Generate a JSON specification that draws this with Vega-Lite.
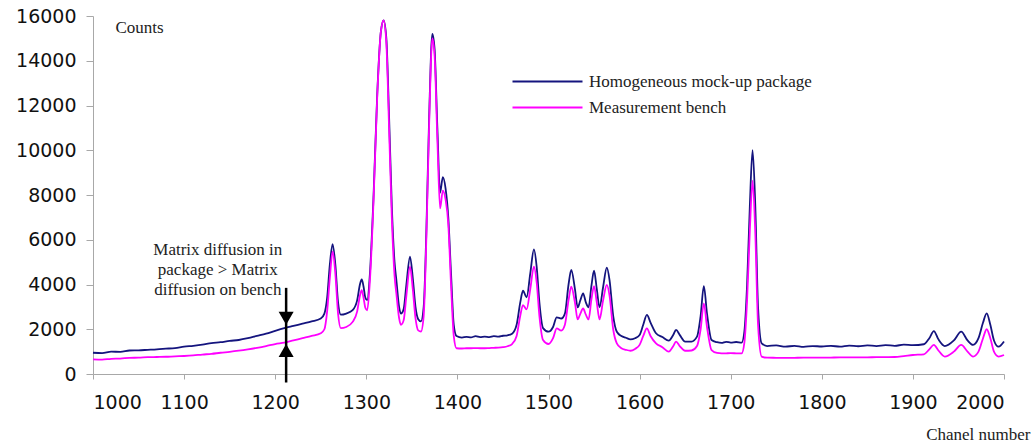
{
  "$schema": "https://vega.github.io/schema/vega-lite/v6.json",
  "width": 911,
  "height": 358,
  "autosize": {"type": "none"},
  "padding": {"left": 93, "top": 16, "right": 32, "bottom": 73},
  "background": "white",
  "config": {"view": {"stroke": null}},
  "layer": [
    {
      "data": {"values": [
        {"ch":1000,"pkg":950,"bench":650},{"ch":1010,"pkg":930,"bench":640},{"ch":1020,"pkg":1000,"bench":680},{"ch":1030,"pkg":990,"bench":690},
        {"ch":1040,"pkg":1050,"bench":720},{"ch":1050,"pkg":1060,"bench":730},{"ch":1060,"pkg":1080,"bench":750},{"ch":1070,"pkg":1100,"bench":760},
        {"ch":1080,"pkg":1130,"bench":770},{"ch":1090,"pkg":1160,"bench":790},{"ch":1100,"pkg":1220,"bench":805},{"ch":1110,"pkg":1260,"bench":830},
        {"ch":1120,"pkg":1310,"bench":870},{"ch":1130,"pkg":1380,"bench":900},{"ch":1140,"pkg":1420,"bench":950},{"ch":1150,"pkg":1480,"bench":990},
        {"ch":1160,"pkg":1520,"bench":1040},{"ch":1170,"pkg":1600,"bench":1100},{"ch":1180,"pkg":1700,"bench":1170},{"ch":1190,"pkg":1800,"bench":1250},
        {"ch":1200,"pkg":1930,"bench":1340},{"ch":1210,"pkg":2050,"bench":1400},{"ch":1220,"pkg":2150,"bench":1500},{"ch":1230,"pkg":2250,"bench":1600},
        {"ch":1240,"pkg":2350,"bench":1700},{"ch":1250,"pkg":2480,"bench":1820},{"ch":1254,"pkg":2700,"bench":2000},{"ch":1257,"pkg":3400,"bench":2800},
        {"ch":1260,"pkg":4900,"bench":4300},{"ch":1263,"pkg":5800,"bench":5470},{"ch":1266,"pkg":4900,"bench":4500},{"ch":1269,"pkg":3200,"bench":2700},
        {"ch":1272,"pkg":2650,"bench":2050},{"ch":1278,"pkg":2700,"bench":2100},{"ch":1285,"pkg":2850,"bench":2330},{"ch":1290,"pkg":3300,"bench":2800},
        {"ch":1293,"pkg":4000,"bench":3500},{"ch":1295,"pkg":4230,"bench":3750},{"ch":1297,"pkg":3900,"bench":3400},{"ch":1299,"pkg":3400,"bench":2950},
        {"ch":1301,"pkg":3300,"bench":2850},{"ch":1304,"pkg":4500,"bench":4200},{"ch":1308,"pkg":8000,"bench":7800},{"ch":1312,"pkg":12500,"bench":12400},
        {"ch":1316,"pkg":15300,"bench":15300},{"ch":1319,"pkg":15800,"bench":15800},{"ch":1322,"pkg":15000,"bench":14800},{"ch":1325,"pkg":11500,"bench":11000},
        {"ch":1328,"pkg":7500,"bench":7000},{"ch":1331,"pkg":5000,"bench":4400},{"ch":1333,"pkg":4200,"bench":3600},{"ch":1336,"pkg":3000,"bench":2500},
        {"ch":1338,"pkg":2700,"bench":2200},{"ch":1341,"pkg":2900,"bench":2400},{"ch":1344,"pkg":4000,"bench":3500},{"ch":1348,"pkg":5250,"bench":4800},
        {"ch":1351,"pkg":4300,"bench":3800},{"ch":1354,"pkg":3000,"bench":2500},{"ch":1357,"pkg":2450,"bench":1950},{"ch":1360,"pkg":2350,"bench":1900},
        {"ch":1363,"pkg":3000,"bench":2600},{"ch":1366,"pkg":6500,"bench":6200},{"ch":1369,"pkg":11500,"bench":11200},{"ch":1372.5,"pkg":15200,"bench":15000},
        {"ch":1375,"pkg":14500,"bench":14200},{"ch":1378,"pkg":11000,"bench":10500},{"ch":1381,"pkg":8100,"bench":7400},{"ch":1384,"pkg":8800,"bench":8200},
        {"ch":1387,"pkg":8300,"bench":7800},{"ch":1390,"pkg":7000,"bench":6700},{"ch":1393,"pkg":4500,"bench":4000},{"ch":1396,"pkg":2200,"bench":1700},
        {"ch":1399,"pkg":1700,"bench":1150},{"ch":1405,"pkg":1630,"bench":1140},{"ch":1410,"pkg":1660,"bench":1150},{"ch":1415,"pkg":1640,"bench":1150},{"ch":1420,"pkg":1690,"bench":1160},{"ch":1425,"pkg":1650,"bench":1150},{"ch":1430,"pkg":1670,"bench":1150},
        {"ch":1435,"pkg":1650,"bench":1160},{"ch":1440,"pkg":1690,"bench":1170},{"ch":1445,"pkg":1670,"bench":1180},{"ch":1450,"pkg":1710,"bench":1200},{"ch":1455,"pkg":1730,"bench":1240},{"ch":1460,"pkg":1800,"bench":1340},{"ch":1465,"pkg":2200,"bench":1700},
        {"ch":1469,"pkg":3200,"bench":2600},{"ch":1472,"pkg":3720,"bench":3080},{"ch":1476,"pkg":3430,"bench":2890},{"ch":1480,"pkg":4500,"bench":3800},
        {"ch":1484,"pkg":5570,"bench":4800},{"ch":1487,"pkg":4800,"bench":4100},{"ch":1490,"pkg":3200,"bench":2600},{"ch":1494,"pkg":2050,"bench":1520},
        {"ch":1500,"pkg":1890,"bench":1340},{"ch":1505,"pkg":2100,"bench":1600},{"ch":1509,"pkg":2530,"bench":2040},{"ch":1514,"pkg":2480,"bench":1940},
        {"ch":1518,"pkg":2700,"bench":2200},{"ch":1522,"pkg":4000,"bench":3300},{"ch":1525,"pkg":4650,"bench":3900},{"ch":1529,"pkg":3800,"bench":3200},
        {"ch":1532,"pkg":2980,"bench":2440},{"ch":1535,"pkg":3300,"bench":2700},{"ch":1538,"pkg":3600,"bench":2930},{"ch":1541,"pkg":3200,"bench":2650},
        {"ch":1544,"pkg":2980,"bench":2440},{"ch":1547,"pkg":3900,"bench":3300},{"ch":1550,"pkg":4620,"bench":3930},{"ch":1553,"pkg":3800,"bench":3200},
        {"ch":1556,"pkg":2980,"bench":2440},{"ch":1560,"pkg":3900,"bench":3300},{"ch":1564,"pkg":4750,"bench":3980},{"ch":1567,"pkg":4200,"bench":3500},
        {"ch":1571,"pkg":2600,"bench":2000},{"ch":1575,"pkg":1890,"bench":1370},{"ch":1580,"pkg":1700,"bench":1150},{"ch":1585,"pkg":1620,"bench":1080},{"ch":1590,"pkg":1550,"bench":1040},{"ch":1595,"pkg":1600,"bench":1120},
        {"ch":1600,"pkg":1740,"bench":1300},{"ch":1604,"pkg":2200,"bench":1700},{"ch":1608,"pkg":2640,"bench":2040},{"ch":1612,"pkg":2300,"bench":1700},
        {"ch":1618,"pkg":1820,"bench":1370},{"ch":1625,"pkg":1650,"bench":1200},{"ch":1632,"pkg":1490,"bench":1000},{"ch":1637,"pkg":1750,"bench":1250},
        {"ch":1640,"pkg":1970,"bench":1450},{"ch":1644,"pkg":1750,"bench":1250},{"ch":1650,"pkg":1450,"bench":1040},{"ch":1657,"pkg":1450,"bench":1050},
        {"ch":1663,"pkg":1670,"bench":1250},{"ch":1667,"pkg":2600,"bench":2000},{"ch":1670.5,"pkg":3930,"bench":3160},{"ch":1674,"pkg":2700,"bench":2100},
        {"ch":1679,"pkg":1520,"bench":1070},{"ch":1685,"pkg":1420,"bench":940},{"ch":1690,"pkg":1390,"bench":920},{"ch":1695,"pkg":1440,"bench":925},{"ch":1700,"pkg":1400,"bench":930},{"ch":1706,"pkg":1430,"bench":925},{"ch":1712,"pkg":1400,"bench":920},
        {"ch":1715,"pkg":1900,"bench":1400},{"ch":1718,"pkg":4000,"bench":3300},{"ch":1721,"pkg":7500,"bench":6400},{"ch":1724,"pkg":10000,"bench":8640},
        {"ch":1727,"pkg":7500,"bench":6300},{"ch":1730,"pkg":3000,"bench":2200},{"ch":1734,"pkg":1370,"bench":780},{"ch":1740,"pkg":1250,"bench":730},
        {"ch":1750,"pkg":1280,"bench":725},{"ch":1760,"pkg":1220,"bench":720},{"ch":1770,"pkg":1260,"bench":725},{"ch":1780,"pkg":1210,"bench":730},{"ch":1790,"pkg":1250,"bench":730},{"ch":1800,"pkg":1230,"bench":730},{"ch":1810,"pkg":1260,"bench":735},{"ch":1820,"pkg":1220,"bench":740},
        {"ch":1830,"pkg":1270,"bench":740},{"ch":1840,"pkg":1240,"bench":740},{"ch":1850,"pkg":1280,"bench":745},{"ch":1860,"pkg":1250,"bench":750},{"ch":1870,"pkg":1290,"bench":755},{"ch":1880,"pkg":1260,"bench":760},{"ch":1890,"pkg":1310,"bench":800},{"ch":1900,"pkg":1290,"bench":850},
        {"ch":1912,"pkg":1330,"bench":880},{"ch":1918,"pkg":1600,"bench":1100},{"ch":1923,"pkg":1920,"bench":1300},{"ch":1928,"pkg":1550,"bench":1050},
        {"ch":1935,"pkg":1250,"bench":780},{"ch":1945,"pkg":1500,"bench":1000},{"ch":1953,"pkg":1890,"bench":1300},{"ch":1960,"pkg":1500,"bench":1000},
        {"ch":1966,"pkg":1300,"bench":780},{"ch":1972,"pkg":1600,"bench":1000},{"ch":1977,"pkg":2300,"bench":1600},{"ch":1981,"pkg":2710,"bench":2000},
        {"ch":1985,"pkg":2200,"bench":1600},{"ch":1989,"pkg":1500,"bench":1000},{"ch":1994,"pkg":1220,"bench":780},{"ch":2000,"pkg":1450,"bench":850}
      ]},
      "transform": [{"fold": ["pkg", "bench"], "as": ["series", "value"]}],
      "mark": {"type": "line", "interpolate": "monotone", "strokeWidth": 1.8},
      "encoding": {
        "x": {
          "field": "ch", "type": "quantitative",
          "scale": {"domain": [1000, 2000], "nice": false, "zero": false},
          "axis": {
            "values": [1000,1100,1200,1300,1400,1500,1600,1700,1800,1900,2000],
            "format": "d",
            "grid": false, "domainColor": "#a8a8a8", "tickColor": "#a8a8a8", "tickSize": 5,
            "labelFont": "DejaVu Sans", "labelFontSize": 19, "labelColor": "#111", "labelPadding": 14,
            "title": "Chanel number", "titleFont": "Liberation Serif", "titleFontSize": 17, "titleFontWeight": "normal",
            "titleColor": "#222", "titleAnchor": "end", "titleAlign": "right", "titleBaseline": "middle", "titleX": 937, "titleY": 60
          }
        },
        "y": {
          "field": "value", "type": "quantitative",
          "scale": {"domain": [0, 16000], "nice": false},
          "axis": {
            "values": [0,2000,4000,6000,8000,10000,12000,14000,16000],
            "format": "d",
            "grid": false, "domainColor": "#a8a8a8", "tickColor": "#a8a8a8", "tickSize": 7,
            "labelFont": "DejaVu Sans", "labelFontSize": 19, "labelColor": "#111", "labelPadding": 10,
            "title": "Counts", "titleFont": "Liberation Serif", "titleFontSize": 17, "titleFontWeight": "normal",
            "titleColor": "#222", "titleAngle": 0, "titleAlign": "left", "titleBaseline": "middle", "titleX": 22, "titleY": 11
          }
        },
        "color": {
          "field": "series", "type": "nominal",
          "scale": {"domain": ["pkg", "bench"], "range": ["#14147e", "#ff00ff"]},
          "legend": {
            "orient": "none", "legendX": 446, "legendY": 57, "title": null, "padding": 0,
            "symbolType": "M-5,0H5", "symbolSize": 196, "symbolStrokeWidth": 2,
            "rowPadding": 8, "labelOffset": 33,
            "labelFont": "Liberation Serif", "labelFontSize": 17, "labelColor": "#222", "labelLimit": 400,
            "labelExpr": "datum.label == 'pkg' ? 'Homogeneous mock-up package' : 'Measurement bench'"
          }
        }
      }
    },
    {
      "data": {"values": [{"x": 1212, "top": 3850, "bottom": -380}]},
      "mark": {"type": "rule", "color": "#000", "strokeWidth": 2.5},
      "encoding": {
        "x": {"field": "x", "type": "quantitative"},
        "y": {"field": "top", "type": "quantitative"},
        "y2": {"field": "bottom"}
      }
    },
    {
      "data": {"values": [
        {"x": 1212, "y": 2490, "shape": "triangle-down"},
        {"x": 1212, "y": 1055, "shape": "triangle-up"}
      ]},
      "mark": {"type": "point", "filled": true, "color": "#000", "opacity": 1, "size": 225},
      "encoding": {
        "x": {"field": "x", "type": "quantitative"},
        "y": {"field": "y", "type": "quantitative"},
        "shape": {"field": "shape", "type": "nominal", "scale": null}
      }
    },
    {
      "data": {"values": [{"x": 1137, "y": 5543, "label": "Matrix diffusion in\npackage > Matrix\ndiffusion on bench"}]},
      "mark": {"type": "text", "font": "Liberation Serif", "fontSize": 17, "color": "#222", "lineBreak": "\n", "lineHeight": 20, "align": "center", "baseline": "middle"},
      "encoding": {
        "x": {"field": "x", "type": "quantitative"},
        "y": {"field": "y", "type": "quantitative"},
        "text": {"field": "label"}
      }
    }
  ]
}
